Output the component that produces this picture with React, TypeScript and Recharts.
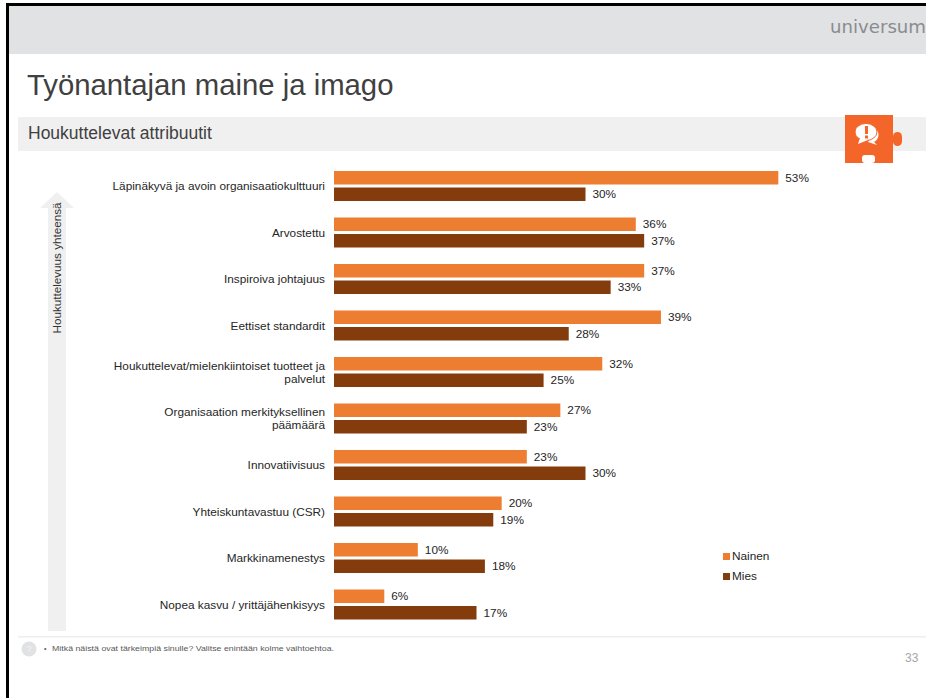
import React from "react";
import { BarChart, Bar, XAxis, YAxis, LabelList, Legend } from "recharts";

const categories = [
  "Läpinäkyvä ja avoin organisaatiokulttuuri",
  "Arvostettu",
  "Inspiroiva johtajuus",
  "Eettiset standardit",
  "Houkuttelevat/mielenkiintoiset tuotteet ja|palvelut",
  "Organisaation merkityksellinen|päämäärä",
  "Innovatiivisuus",
  "Yhteiskuntavastuu (CSR)",
  "Markkinamenestys",
  "Nopea kasvu / yrittäjähenkisyys",
];
const nainen = [53, 36, 37, 39, 32, 27, 23, 20, 10, 6];
const mies = [30, 37, 33, 28, 25, 23, 30, 19, 18, 17];
const rows = categories.map((name, i) => ({ name, Nainen: nainen[i], Mies: mies[i] }));

const FONT = "'Liberation Sans', Arial, sans-serif";

const CategoryTick = (props: any) => {
  const { x, y, payload } = props;
  const lines = String(payload.value).split("|");
  const lh = 13;
  const startY = y + 4 - ((lines.length - 1) * lh) / 2;
  return (
    <text x={325} y={startY} textAnchor="end" fontSize={11.8} fill="#262626" fontFamily={FONT}>
      {lines.map((l: string, i: number) => (
        <tspan key={i} x={325} y={startY + i * lh}>{l}</tspan>
      ))}
    </text>
  );
};

const Decor = () => (
  <svg width={926} height={698} style={{ position: "absolute", left: 0, top: 0 }}>
    <rect x={6} y={3} width={920} height={3} fill="#000" />
    <rect x={6} y={3} width={3} height={695} fill="#000" />
    <rect x={9} y={6} width={917} height={48} fill="#e1e2e4" />
    <text x={27} y={95} fontSize={29.3} fill="#404040" fontFamily={FONT}>Työnantajan maine ja imago</text>
    <rect x={18} y={117} width={908} height={34} fill="#f0f0f0" />
    <text x={28} y={139} fontSize={17.5} fill="#404040" fontFamily={FONT}>Houkuttelevat attribuutit</text>
    <text x={830} y={33} fontSize={17} fill="#8a8c8e" fontFamily="'DejaVu Sans', sans-serif" textLength={96} lengthAdjust="spacingAndGlyphs">universum</text>
    {/* puzzle icon */}
    <rect x={845} y={115} width={48} height={48} fill="#f4652a" />
    <rect x={893} y={132} width={9} height={14} rx={4.5} fill="#f4652a" />
    <rect x={862} y={155} width={13} height={8} rx={3} fill="#fff" />
    <path d="M876 129 a8 8 0 0 1 -2 13 l3 3 l-9 -3 Z" fill="#fff" />
    <ellipse cx={866} cy={132} rx={11} ry={8.5} fill="#fff" stroke="#f4652a" strokeWidth={1} />
    <path d="M860 138 L858 144 L868 140 Z" fill="#fff" />
    <rect x={865} y={126} width={3} height={8} fill="#f4652a" />
    <rect x={865} y={135.5} width={3} height={3} fill="#f4652a" />
    {/* arrow */}
    <path d="M57 192 L74 208 L66 208 L66 631 L48 631 L48 208 L40 208 Z" fill="#f0f0f0" />
    <text transform="translate(61,268) rotate(-90)" textAnchor="middle" fontSize={10.5} fill="#333" fontFamily={FONT} textLength={131} lengthAdjust="spacingAndGlyphs">Houkuttelevuus yhteensä</text>
    {/* footer */}
    <rect x={18} y={636} width={908} height={1.5} fill="#eeeeee" />
    <circle cx={29} cy={649} r={7.5} fill="#e1e2e4" />
    <text x={29} y={652} textAnchor="middle" fontSize={9} fill="#f5f5f5" fontFamily={FONT}>?</text>
    <text x={44} y={651} fontSize={7} fill="#595959" fontFamily={FONT}>•</text>
    <text x={52} y={651} fontSize={7} fill="#595959" fontFamily={FONT} textLength={282} lengthAdjust="spacingAndGlyphs">Mitkä näistä ovat tärkeimpiä sinulle? Valitse enintään kolme vaihtoehtoa.</text>
    <text x={905} y={662} fontSize={12} fill="#a6a6a6" fontFamily={FONT}>33</text>
  </svg>
);

export default function App() {
  return (
    <div style={{ position: "absolute", left: 0, top: 0, width: 926, height: 698, background: "#fff", overflow: "hidden" }}>
      <Decor />
      <div style={{ position: "absolute", left: 0, top: 0 }}>
        <BarChart
          width={926}
          height={698}
          layout="vertical"
          data={rows}
          margin={{ top: 163, right: 89, bottom: 70, left: 0 }}
          barSize={13.5}
          barGap={3}
        >
          <XAxis type="number" hide domain={[0, 60]} />
          <YAxis
            type="category"
            dataKey="name"
            width={334}
            axisLine={false}
            tickLine={false}
            interval={0}
            tick={<CategoryTick />}
          />
          <Legend
            layout="vertical"
            align="center"
            verticalAlign="middle"
            iconType="square"
            iconSize={7}
            itemSorter={(item: any) => (item.value === "Nainen" ? 0 : 1)}
            wrapperStyle={{ left: 723, top: 546, width: 80, fontFamily: FONT, fontSize: 11.8, lineHeight: "20px", textAlign: "left" }}
            formatter={(v: string) => <span style={{ color: "#262626", marginLeft: -2 }}>{v}</span>}
          />
          <Bar dataKey="Nainen" fill="#ed7d31" isAnimationActive={false}>
            <LabelList dataKey="Nainen" position="right" offset={7} formatter={(v: number) => `${v}%`} fontSize={11.8} fill="#262626" fontFamily={FONT} />
          </Bar>
          <Bar dataKey="Mies" fill="#843c0c" isAnimationActive={false}>
            <LabelList dataKey="Mies" position="right" offset={7} formatter={(v: number) => `${v}%`} fontSize={11.8} fill="#262626" fontFamily={FONT} />
          </Bar>
        </BarChart>
      </div>
    </div>
  );
}
